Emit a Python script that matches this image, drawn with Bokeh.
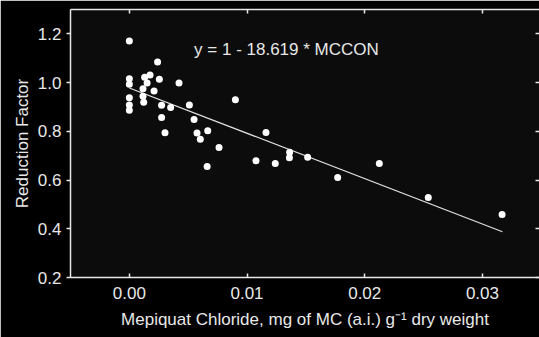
from bokeh.plotting import figure
from bokeh.models import (LinearAxis, Label, Range1d, FixedTicker, ColumnDataSource,
                          CustomJSTickFormatter)
from bokeh.embed import file_html
from bokeh.resources import INLINE

# MC concentration (mg MC (a.i.) g-1 dry weight)
mc_conc = [0.0, 0.0, 0.0, 0.0, 0.0, 0.0,
           0.00116, 0.00116, 0.00122, 0.0013, 0.00151, 0.00176, 0.0021, 0.0024,
           0.00255, 0.00274, 0.00274, 0.00303, 0.00351, 0.00422, 0.0051, 0.0055,
           0.00575, 0.00603, 0.00666, 0.00661, 0.00762, 0.00901, 0.01076, 0.01161,
           0.0124, 0.01362, 0.0136, 0.01515, 0.0177, 0.02124, 0.0254, 0.03167]
# Reduction factor
reduction = [1.171, 1.016, 0.993, 0.938, 0.908, 0.886,
             0.975, 0.944, 0.919, 1.022, 0.998, 1.031, 0.965, 1.085,
             1.014, 0.907, 0.857, 0.794, 0.898, 0.998, 0.908, 0.848,
             0.793, 0.767, 0.802, 0.656, 0.734, 0.930, 0.679, 0.795,
             0.668, 0.714, 0.691, 0.694, 0.610, 0.668, 0.528, 0.459]

# fitted line endpoints (as drawn)
fit_x = [0.0, 0.0317]
fit_y = [0.978, 0.388]

x_ticks = [0.0, 0.01, 0.02, 0.03]
y_ticks = [0.2, 0.4, 0.6, 0.8, 1.0, 1.2]
eq_text = "y = 1 - 18.619 * MCCON"

FONT = "Liberation Sans"
FS = "17px"
AX = "#e8e8e8"

p = figure(width=539, height=337, output_backend="svg", toolbar_location=None,
           x_range=Range1d(-0.005, 0.03485), y_range=Range1d(0.2, 1.3),
           min_border_left=70, min_border_right=0, min_border_top=9,
           min_border_bottom=60, x_axis_location=None, y_axis_location=None)
p.background_fill_color = "#0c0c0c"
p.border_fill_color = "#000000"
p.outline_line_color = None
p.grid.visible = False

def style(ax):
    ax.axis_line_color = AX
    ax.axis_line_width = 1.5
    ax.major_tick_line_color = AX
    ax.major_tick_line_width = 1.5
    ax.minor_tick_line_color = None
    ax.major_label_text_color = AX
    ax.major_label_text_font = FONT
    ax.major_label_text_font_size = FS
    ax.axis_label_text_color = AX
    ax.axis_label_text_font = FONT
    ax.axis_label_text_font_size = FS
    ax.axis_label_text_font_style = "normal"

xb = LinearAxis(ticker=FixedTicker(ticks=x_ticks),
                axis_label="Mepiquat Chloride, mg of MC (a.i.) g\u207b\u00b9 dry weight",
                formatter=CustomJSTickFormatter(code="return tick.toFixed(2);"))
style(xb)
xb.major_tick_in = 4
xb.major_tick_out = 0
xb.major_label_standoff = 9
xb.axis_label_standoff = 8
p.add_layout(xb, "below")

yl = LinearAxis(ticker=FixedTicker(ticks=y_ticks), axis_label="Reduction Factor",
                formatter=CustomJSTickFormatter(code="return tick.toFixed(1);"))
style(yl)
yl.major_tick_in = 0
yl.major_tick_out = 4
yl.major_label_standoff = 5
yl.axis_label_standoff = 3
p.add_layout(yl, "left")

# mirror axes on top and right: ticks only, pointing inward, no labels
for loc, ticks in (("above", x_ticks), ("right", y_ticks)):
    ax = LinearAxis(ticker=FixedTicker(ticks=ticks))
    style(ax)
    ax.major_tick_in = 4
    ax.major_tick_out = 0
    ax.major_label_standoff = 0
    ax.major_label_overrides = {t: "" for t in ticks}
    if loc == "right":
        ax.axis_line_color = None
    p.add_layout(ax, loc)

src = ColumnDataSource(dict(x=mc_conc, y=reduction))
p.line(fit_x, fit_y, line_color="#e0e0e0", line_width=1.2)
p.scatter("x", "y", source=src, size=7, fill_color="white", line_color=None)

p.add_layout(Label(x=0.0055, y=1.137, text=eq_text, text_font=FONT,
                   text_font_size=FS, text_color=AX, text_baseline="alphabetic"))

open("out.html", "w").write(file_html(p, INLINE))
